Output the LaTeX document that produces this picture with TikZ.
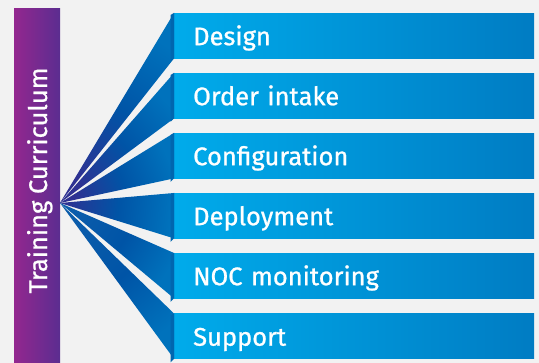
\documentclass[tikz,border=0pt]{standalone}
\usepackage{fontspec}
\setmainfont{Fira Sans}
\newfontfamily\medfont{Fira Sans}[FakeBold=0.9]
\usetikzlibrary{calc}
\definecolor{bg}{HTML}{F2F2F2}
\definecolor{barL}{HTML}{93278F}
\definecolor{barR}{HTML}{5B2D90}
\definecolor{wApex}{HTML}{2E3192}
\definecolor{wApexB}{HTML}{0B5CAB}
\definecolor{wMid}{HTML}{0054A6}
\definecolor{wEnd}{HTML}{0072BC}
\definecolor{boxL}{HTML}{00ABEB}
\definecolor{boxR}{HTML}{007CC3}
\definecolor{strip}{HTML}{0066AF}
\tikzset{
  itembox/.style={anchor=north west, minimum width=360pt, minimum height=45pt,
    text width=322pt, inner xsep=19pt, inner ysep=0pt, align=left,
    text height=19pt, text depth=0pt, text=white,
    font=\medfont\fontsize{25.5}{28}\selectfont, left color=boxL, right color=boxR},
  wedge/.style={bottom color=#1, top color=wEnd, middle color=wMid},
  stripe/.style={fill=strip},
  bartext/.style={rotate=90, anchor=base, text=white, font=\medfont\fontsize{25.5}{28}\selectfont}
}
\begin{document}
\begin{tikzpicture}[x=1pt,y=1pt]
\fill[bg] (0,0) rectangle (539,363);
\useasboundingbox (0,0) rectangle (539,363);
\shade[left color=barL, right color=barR] (14,0) rectangle (60,354);
\node[bartext] (title) at (47,182.5) {Training Curriculum};
\coordinate (apex) at (60,160);
\node[itembox] (b1) at (174,350) {Design};
\node[itembox] (b2) at (174,290) {Order intake};
\node[itembox] (b3) at (174,230) {Configuration};
\node[itembox] (b4) at (174,170) {Deployment};
\node[itembox] (b5) at (174,110) {NOC monitoring};
\node[itembox] (b6) at (174,49.5) {Support};
\shade[wedge=wApex, shading angle=-34.2] (apex) -- (b1.north west) -- (b1.south west) -- cycle;
\shade[wedge=wApex, shading angle=-46.7] (apex) -- (b2.north west) -- (b2.south west) -- cycle;
\shade[wedge=wApex, shading angle=-67.4] (apex) -- (b3.north west) -- (b3.south west) -- cycle;
\shade[wedge=wApex, shading angle=-96.3] (apex) -- (b4.north west) -- (b4.south west) -- cycle;
\shade[wedge=wApexB, shading angle=-122.6] (apex) -- (b5.north west) -- (b5.south west) -- cycle;
\shade[wedge=wApexB, shading angle=-139.4] (apex) -- (b6.north west) -- (b6.south west) -- cycle;
\foreach \b in {b1,b2,b3,b4,b5,b6}{
  \fill[stripe] ($(\b.north west)+(-3.5,-2)$) -- (\b.north west) -- (\b.south west) -- ($(\b.south west)+(-3.5,-3.5)$) -- cycle;
}
\end{tikzpicture}
\end{document}
